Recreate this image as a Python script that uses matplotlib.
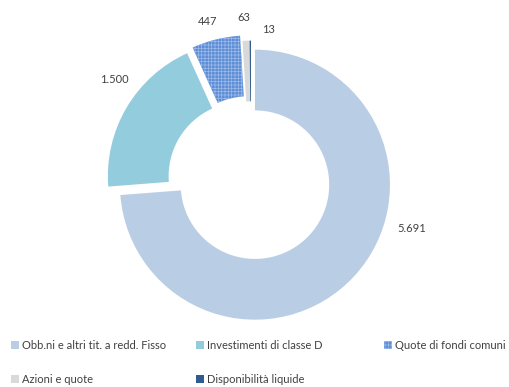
import numpy as np
import matplotlib
matplotlib.use("Agg")
import matplotlib.pyplot as plt
from matplotlib.patches import Patch

categories = ["Obb.ni e altri tit. a redd. Fisso", "Investimenti di classe D",
              "Quote di fondi comuni", "Azioni e quote", "Disponibilità liquide"]
values = [5691, 1500, 447, 63, 13]
value_labels = ["5.691", "1.500", "447", "63", "13"]
colors = ["#B9CDE5", "#93CDDD", "#5E8ED6", "#D9D9D9", "#2F5C8F"]
explode = [0.04, 0.07, 0.08, 0.04, 0.04]
# label positions, in units of the outer radius
label_pos = [(1.19, -0.35), (-1.01, 0.75), (-0.32, 1.18), (-0.05, 1.21), (0.13, 1.12)]
# legend columns: which categories go in each column
legend_cols = [[0, 3], [1, 4], [2]]

plt.rcParams['font.family'] = ['Lato', 'DejaVu Sans']
plt.rcParams['hatch.linewidth'] = 0.5

W, H = 509, 387
fig = plt.figure(figsize=(W / 100, H / 100), dpi=100)

cx, cy, R = 251, 181, 135
ax = fig.add_axes([(cx - R) / W, (H - cy - R) / H, 2 * R / W, 2 * R / H])
wedges, _ = ax.pie(values, colors=colors, startangle=90, counterclock=False,
                   explode=explode, radius=1.0,
                   wedgeprops=dict(width=0.45, linewidth=0))
wedges[2].set_hatch('+++++')
wedges[2].set_edgecolor('#9DBBE8')
wedges[2].set_linewidth(0)
ax.set_xlim(-1, 1)
ax.set_ylim(-1, 1)
ax.set_aspect('equal')
ax.axis('off')
for w in wedges:
    w.set_clip_on(False)

for lab, (x, y) in zip(value_labels, label_pos):
    ax.text(x, y, lab, ha='center', va='center', fontsize=8, color='#404040')

handles = [Patch(facecolor=c, edgecolor='none') for c in colors]
handles[2] = Patch(facecolor=colors[2], edgecolor='#9DBBE8', hatch='+++++', linewidth=0)
col_x = [11, 196, 384]
for idx, x in zip(legend_cols, col_x):
    fig.legend([handles[i] for i in idx], [categories[i] for i in idx],
               loc='upper left', bbox_to_anchor=(x / W, 1 - 340 / H),
               frameon=False, fontsize=8, handlelength=0.75, handleheight=0.75,
               handletextpad=0.25, labelspacing=2.05, borderpad=0, borderaxespad=0,
               labelcolor='#404040')

fig.savefig("out.png", dpi=100)
